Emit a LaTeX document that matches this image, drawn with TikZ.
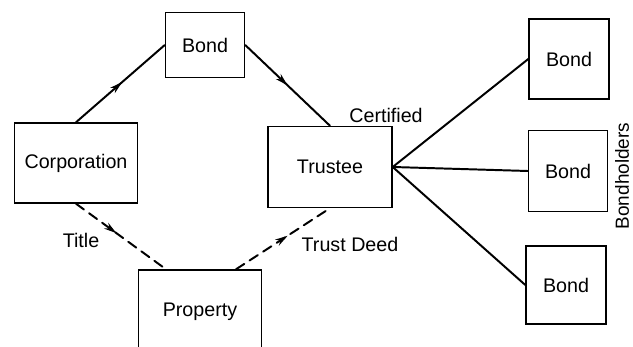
\documentclass[tikz,border=0pt]{standalone}
\usepackage{fontspec}
\setmainfont{Liberation Sans}
\usetikzlibrary{arrows.meta,decorations.markings}

\begin{document}
\begin{tikzpicture}
		[x=0.025cm,y=0.025cm,line cap=round,
		%Styles
		box/.style={draw,line width=1pt,inner sep=0pt,font=\fontsize{14}{16}\selectfont},
		flow line/.style={line width=1.4pt,postaction={decorate},
			decoration={markings,mark=at position #1 with {\arrow{Stealth[length=9pt,width=5pt]}}}},
		deed line/.style={flow line=#1,dash pattern=on 7pt off 4.5pt},
		fan line/.style={line width=1.4pt},
		side text/.style={font=\fontsize{14}{16}\selectfont}
		]
		
		\useasboundingbox (0,0) rectangle (633,347);
		
		%The graphic
		\node[box,minimum width=1.975cm,minimum height=1.625cm] (bond) at (205,302) {Bond};
		\node[box,minimum width=3.075cm,minimum height=2cm] (corp) at (76,184) {Corporation};
		\node[box,minimum width=3.1cm,minimum height=2.025cm] (trustee) at (330,180) {Trustee};
		\node[box,minimum width=3.075cm,minimum height=2.1cm] (prop) at (200,35) {Property};
		
		\node[box,minimum width=2cm,minimum height=2cm] (holder1) at (569,288) {Bond};
		\node[box,minimum width=1.975cm,minimum height=2.025cm] (holder2) at (568,176) {Bond};
		\node[box,minimum width=2cm,minimum height=1.95cm] (holder3) at (566,62) {Bond};
		
		\draw[flow line=0.52] (corp.north) -- (bond.west);
		\draw[flow line=0.5] (bond.east) -- (trustee.north);
		\draw[deed line=0.45] (corp.south) -- ([xshift=-0.85cm]prop.north);
		\draw[deed line=0.55] ([xshift=0.9cm]prop.north) -- (trustee.south);
		
		\draw[fan line] (trustee.east) -- (holder1.west);
		\draw[fan line] (trustee.east) -- (holder2.west);
		\draw[fan line] (trustee.east) -- (holder3.west);
		
		\node[side text] (certified) at (386,232) {Certified};
		\node[side text] (title) at (81,107) {Title};
		\node[side text] (deed) at (350,103) {Trust Deed};
		\node[side text,rotate=90,font=\fontsize{13.5}{16}\selectfont] (holders) at (622,171) {Bondholders};
	\end{tikzpicture}
\end{document}
